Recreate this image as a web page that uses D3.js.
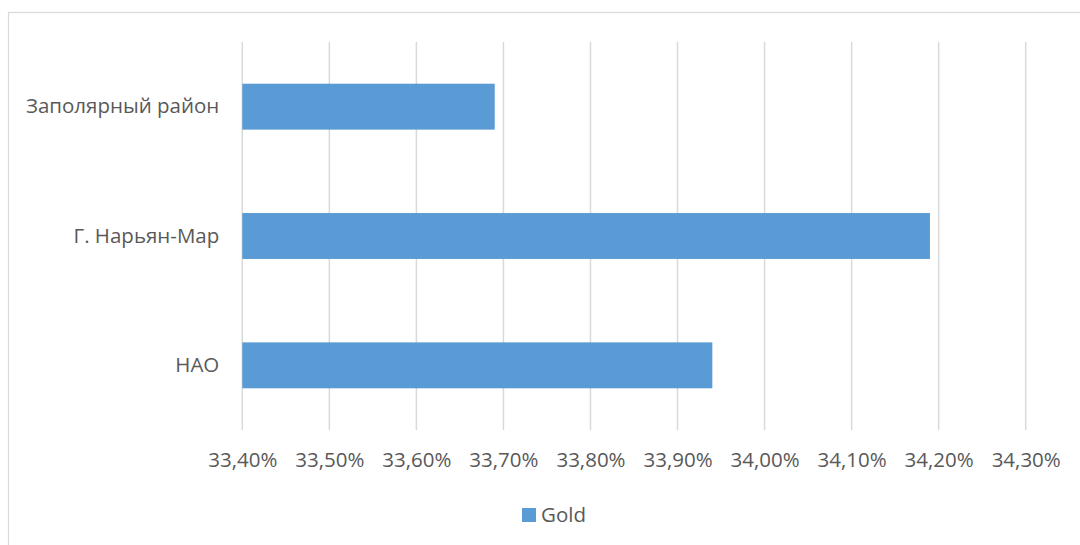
<!DOCTYPE html>
<html>
<head>
  <meta charset="utf-8">
  <title>Gold</title>
  <script src="https://d3js.org/d3.v7.min.js"></script>
  <style>
    body { margin: 0; background: #fff; }
    svg text { font-family: "Open Sans", sans-serif; fill: #595959; }
  </style>
</head>
<body>
<div id="chart"></div>
<script>
  // data (share, in %)
  var categories = ["Заполярный район", "Г. Нарьян-Мар", "НАО"];
  var values = [33.69, 34.19, 33.94];
  var ticks = [33.4, 33.5, 33.6, 33.7, 33.8, 33.9, 34.0, 34.1, 34.2, 34.3];
  var seriesName = "Gold";

  var width = 1080, height = 545;
  var plot = {left: 242.3, right: 1025.7, top: 42, bottom: 430};

  var svg = d3.select("#chart")
    .append("svg")
    .attr("width", width)
    .attr("height", height);

  // chart frame (runs off the right and bottom edge)
  svg.append("rect")
    .attr("x", 8.5).attr("y", 12.5)
    .attr("width", width + 20).attr("height", height + 20)
    .attr("fill", "none")
    .attr("stroke", "#d9d9d9")
    .attr("stroke-width", 1.2);

  var x = d3.scaleLinear().domain([33.4, 34.3]).range([plot.left, plot.right]);
  var y = d3.scaleBand()
    .domain(categories)
    .range([plot.top, plot.bottom])
    .paddingInner(0.645)
    .paddingOuter(0.3225);

  // gridlines
  svg.append("g")
    .selectAll("line")
    .data(ticks)
    .enter()
    .append("line")
    .attr("x1", function(d) { return x(d); })
    .attr("x2", function(d) { return x(d); })
    .attr("y1", plot.top)
    .attr("y2", plot.bottom)
    .attr("stroke", "#d9d9d9")
    .attr("stroke-width", 1.5);

  // bars
  svg.append("g")
    .selectAll("rect")
    .data(values)
    .enter()
    .append("rect")
    .attr("x", x(33.4))
    .attr("y", function(d, i) { return y(categories[i]); })
    .attr("width", function(d) { return x(d) - x(33.4); })
    .attr("height", y.bandwidth())
    .attr("fill", "#5b9bd5");

  // x axis labels
  var fmt = function(d) { return d.toFixed(2).replace(".", ",") + "%"; };
  var xAxis = svg.append("g")
    .attr("transform", "translate(0," + plot.bottom + ")")
    .call(d3.axisBottom(x).tickValues(ticks).tickFormat(fmt).tickSize(0).tickPadding(22));
  xAxis.select(".domain").remove();
  xAxis.selectAll("text")
    .attr("fill", "#595959")
    .style("font-family", "'Open Sans', sans-serif")
    .style("font-size", "20.5px");

  // y axis labels
  var yAxis = svg.append("g")
    .attr("transform", "translate(" + plot.left + ",0)")
    .call(d3.axisLeft(y).tickSize(0).tickPadding(23));
  yAxis.select(".domain").remove();
  yAxis.selectAll("text")
    .attr("fill", "#595959")
    .style("font-family", "'Open Sans', sans-serif")
    .style("font-size", "20.5px");

  // legend
  var legend = svg.append("g").attr("transform", "translate(522,508)");
  legend.append("rect")
    .attr("width", 14).attr("height", 14)
    .attr("fill", "#5b9bd5");
  legend.append("text")
    .attr("x", 19).attr("y", 7)
    .attr("dy", "0.35em")
    .style("font-size", "20.5px")
    .text(seriesName);
</script>
</body>
</html>
